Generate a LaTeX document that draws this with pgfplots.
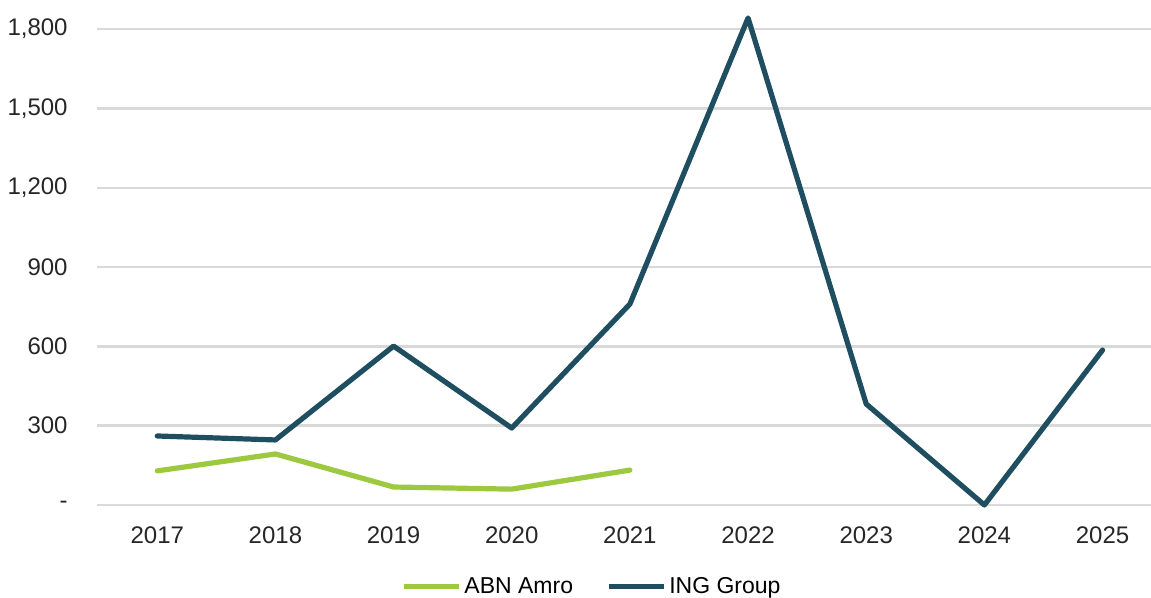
\documentclass[border=0pt]{standalone}
\usepackage{pgfplots}
\pgfplotsset{compat=1.18}
\usepackage{fontspec}
\setmainfont{Liberation Sans}

\definecolor{abngreen}{HTML}{9DC940}
\definecolor{ingblue}{HTML}{1F4E61}
\definecolor{gridgray}{HTML}{D9D9D9}

\begin{document}
\begin{tikzpicture}
\begin{axis}[
    name=ax,
    scale only axis,
    width=527pt,
    height=252.5pt,
    xmin=-0.51, xmax=8.41,
    ymin=0, ymax=1910,
    clip=false,
    axis line style={draw=none},
    xtick={0,...,8},
    xticklabels={2017,2018,2019,2020,2021,2022,2023,2024,2025},
    ytick={0,300,600,900,1200,1500,1800},
    yticklabels={-,300,600,900,{1,200},{1,500},{1,800}},
    major tick length=0pt,
    tick style={draw=none},
    ymajorgrids=true,
    grid style={gridgray, line width=1.2pt},
    tick label style={font=\fontsize{12}{14}\selectfont, text=black!85},
    yticklabel style={inner sep=0pt, anchor=east, xshift=-14.5pt},
    xticklabel style={inner sep=0pt, anchor=north, yshift=-10.5pt},
    legend columns=2,
    legend style={
        at={(0.47,-0.162)}, anchor=center,
        draw=none, fill=none,
        font=\fontsize{11.5}{13}\selectfont,
        inner sep=0pt,
        /tikz/every even column/.append style={column sep=15pt},
        nodes={inner sep=1.5pt},
    },
    legend image code/.code={
        \draw[#1, line cap=butt] (0pt,0pt) -- (27.5pt,0pt);
    },
]

\addplot[abngreen, line width=2.6pt, line join=round, line cap=round]
    coordinates {
        (0, 129)
        (1, 193)
        (2, 68)
        (3, 60)
        (4, 132)
    };
\addlegendentry{ABN Amro}

\addplot[ingblue, line width=2.6pt, line join=round, line cap=round]
    coordinates {
        (0, 261)
        (1, 246)
        (2, 601)
        (3, 291)
        (4, 760)
        (5, 1842)
        (6, 382)
        (7, 0)
        (8, 586)
    };
\addlegendentry{ING Group}

\end{axis}
\pgfresetboundingbox
\path ([xshift=-48.5pt, yshift=-46.5pt]ax.south west)
    rectangle (ax.north east);
\end{tikzpicture}
\end{document}
